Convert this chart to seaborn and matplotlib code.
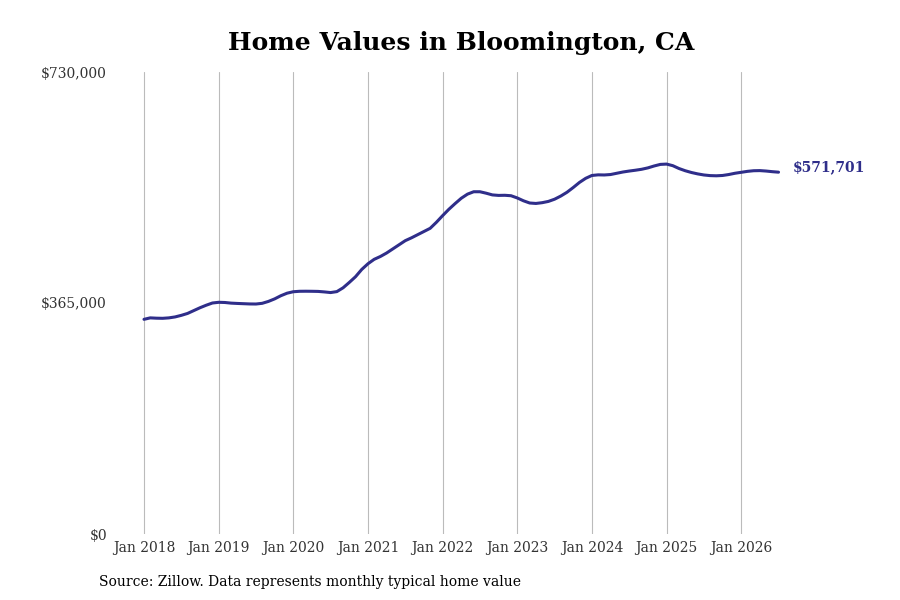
import numpy as np
import pandas as pd
import matplotlib
matplotlib.use("Agg")
import matplotlib.pyplot as plt
import seaborn as sns

title = "Home Values in Bloomington, CA"
source_note = "Source: Zillow. Data represents monthly typical home value"
tick_labels = ["Jan 2018", "Jan 2019", "Jan 2020", "Jan 2021", "Jan 2022",
               "Jan 2023", "Jan 2024", "Jan 2025", "Jan 2026"]
y_ticks = [0, 365000, 730000]
y_tick_labels = ["$0", "$365,000", "$730,000"]
end_label = "$571,701"

# monthly typical home value, Jan 2018 .. Jul 2026
values = [
    339200, 341500, 341000, 340800, 341500, 343000, 345500, 348500, 353000, 357500, 361500, 365000,  # 2018
    366100, 365800, 364800, 364300, 363900, 363500, 363400, 364500, 367500, 371500, 376500, 380500,  # 2019
    382800, 383500, 383600, 383500, 383300, 382500, 381500, 383000, 389000, 397500, 406500, 418000,  # 2020
    427000, 434000, 438500, 444000, 450500, 457000, 463500, 468000, 473000, 478000, 483000, 492500,  # 2021
    503000, 513000, 522000, 530500, 537000, 540800, 540800, 538500, 535800, 535000, 535200, 534500,  # 2022
    531000, 526500, 523000, 522300, 523500, 525500, 529000, 534000, 540000, 547500, 555500, 562000,  # 2023
    566500, 567500, 567300, 568000, 570000, 572000, 573500, 574800, 576300, 578500, 581500, 584000,  # 2024
    584500, 582000, 577500, 574000, 571200, 569000, 567300, 566300, 566000, 566500, 568000, 570000,  # 2025
    571500, 573000, 574000, 574200, 573500, 572500, 571701,                                          # 2026
]

df = pd.DataFrame({"month": np.arange(len(values)), "value": values})

sns.set_theme(style="white")
plt.rcParams["font.family"] = ["DejaVu Serif"]

line_color = "#2f2e8a"

fig = plt.figure(figsize=(9, 6), dpi=100)
ax = fig.add_axes([120 / 900, 66 / 600, 680 / 900, 462 / 600])

sns.lineplot(data=df, x="month", y="value", ax=ax, color=line_color, linewidth=2.2)

ax.set_xlim(-24 / 74.65 * 12, (800 - 144) / 74.65 * 12)
ax.set_ylim(0, 730000)

ax.set_xticks(np.arange(0, 12 * len(tick_labels), 12))
ax.set_xticklabels(tick_labels, fontsize=10, color="#333333")
ax.set_yticks(y_ticks)
ax.set_yticklabels(y_tick_labels, fontsize=10, color="#333333")
ax.tick_params(axis="x", length=0, pad=5)
ax.tick_params(axis="y", length=0, pad=9.4)

ax.grid(axis="x", color="#bbbbbb", linewidth=0.8)
ax.grid(axis="y", visible=False)
for s in ax.spines.values():
    s.set_visible(False)
ax.set_xlabel("")
ax.set_ylabel("")

ax.annotate(end_label, xy=(df["month"].iloc[-1], df["value"].iloc[-1]),
            xytext=(10, 3.5), textcoords="offset points", va="center", ha="left",
            fontsize=10, fontweight="bold", color=line_color, annotation_clip=False)

fig.text(461 / 900, 1 - 43 / 600, title, ha="center", va="center",
         fontsize=18, fontweight="bold", color="black")
fig.text(99 / 900, 1 - 582 / 600, source_note, ha="left", va="center",
         fontsize=10, color="black")

fig.savefig("out.png", dpi=100)
